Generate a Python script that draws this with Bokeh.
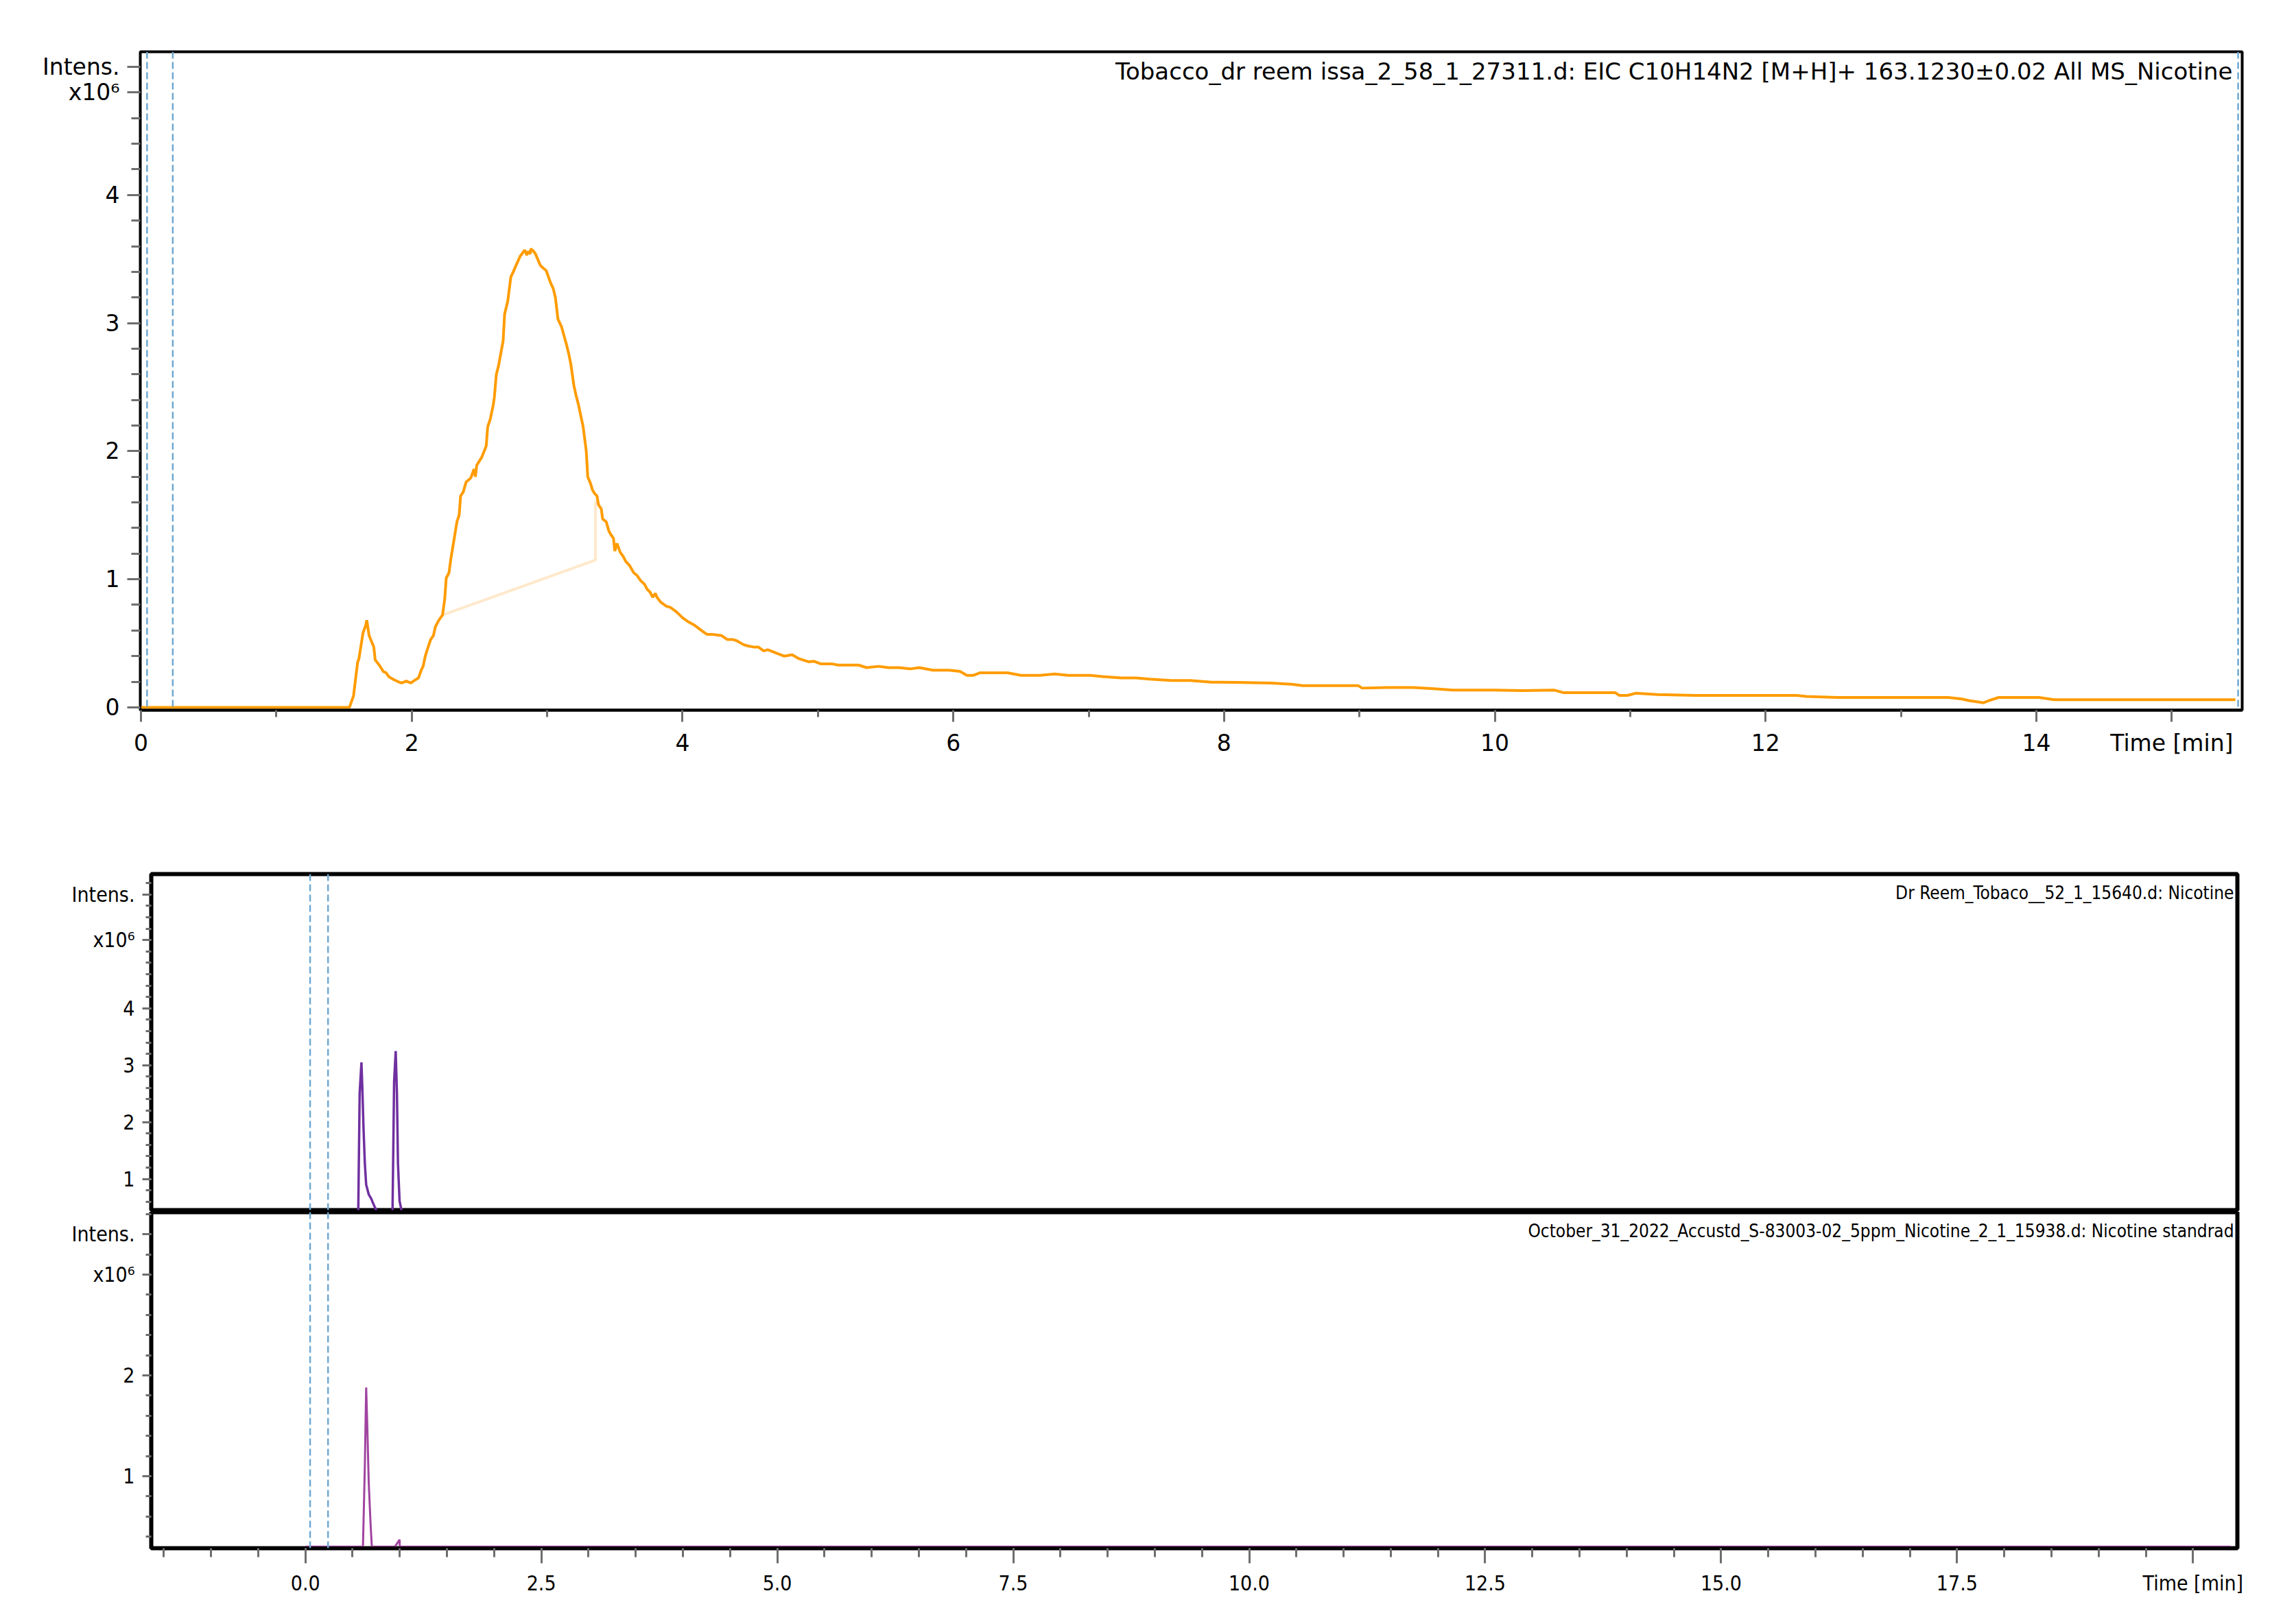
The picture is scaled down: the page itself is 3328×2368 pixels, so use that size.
from bokeh.plotting import figure
from bokeh.models import Range1d, FixedTicker, Span, Label
from bokeh.layouts import column
from bokeh.embed import file_html
from bokeh.resources import INLINE
import numpy as np

# ---------------- data ----------------
# Panel 1: EIC trace (time in min, intensity x10^6)
eic_time = [0.00, 1.54, 1.57, 1.60, 1.61, 1.64, 1.66, 1.668, 1.685, 1.72, 1.73, 1.76, 1.79, 1.81, 1.83,
            1.845, 1.87, 1.90, 1.925, 1.96, 1.993, 2.02, 2.05, 2.07, 2.084, 2.10, 2.118, 2.14, 2.16, 2.175,
            2.20, 2.227, 2.243, 2.255, 2.275, 2.289, 2.311, 2.334, 2.35, 2.361, 2.38, 2.402, 2.436, 2.46,
            2.47, 2.48, 2.516, 2.55, 2.561, 2.58, 2.602, 2.61, 2.625, 2.64, 2.652, 2.675, 2.686, 2.709,
            2.732, 2.75, 2.766, 2.80, 2.834, 2.85, 2.86, 2.875, 2.88, 2.90, 2.914, 2.95, 2.97, 2.993, 3.01,
            3.027, 3.045, 3.061, 3.08, 3.107, 3.125, 3.141, 3.16, 3.175, 3.198, 3.215, 3.232, 3.25, 3.266,
            3.289, 3.30, 3.32, 3.334, 3.35, 3.368, 3.38, 3.40, 3.41, 3.436, 3.455, 3.47, 3.49, 3.50, 3.516,
            3.54, 3.561, 3.58, 3.607, 3.64, 3.664, 3.69, 3.72, 3.74, 3.76, 3.78, 3.80, 3.811, 3.84, 3.88,
            3.91, 3.95, 4.00, 4.039, 4.09, 4.152, 4.18, 4.22, 4.289, 4.33, 4.37, 4.40, 4.45, 4.48, 4.53,
            4.561, 4.60, 4.63, 4.70, 4.75, 4.81, 4.86, 4.93, 4.97, 5.02, 5.10, 5.15, 5.22, 5.30, 5.36, 5.45,
            5.52, 5.60, 5.68, 5.75, 5.85, 5.97, 6.05, 6.10, 6.15, 6.20, 6.27, 6.40, 6.50, 6.64, 6.75, 6.85,
            7.01, 7.10, 7.24, 7.35, 7.45, 7.61, 7.75, 7.91, 8.10, 8.35, 8.50, 8.58, 8.80, 8.99, 9.02, 9.20,
            9.40, 9.55, 9.69, 10.0, 10.2, 10.44, 10.51, 10.7, 10.89, 10.92, 10.98, 11.04, 11.2, 11.48, 11.8,
            12.0, 12.23, 12.3, 12.53, 12.9, 13.35, 13.45, 13.50, 13.61, 13.65, 13.72, 14.02, 14.13, 15.47]
eic_intens = [0.00, 0.00, 0.09, 0.35, 0.38, 0.58, 0.64, 0.68, 0.56, 0.47, 0.37, 0.33, 0.28, 0.27, 0.24,
              0.23, 0.215, 0.20, 0.19, 0.205, 0.19, 0.21, 0.23, 0.29, 0.32, 0.40, 0.46, 0.53, 0.56, 0.63,
              0.68, 0.72, 0.84, 1.01, 1.05, 1.16, 1.30, 1.45, 1.50, 1.65, 1.68, 1.76, 1.79, 1.86,
              1.80, 1.89, 1.95, 2.04, 2.19, 2.25, 2.36, 2.42, 2.60, 2.66, 2.73, 2.86, 3.07, 3.17,
              3.36, 3.40, 3.44, 3.52, 3.57, 3.53, 3.56, 3.54, 3.58, 3.56, 3.54, 3.45, 3.43, 3.41, 3.36,
              3.31, 3.27, 3.20, 3.03, 2.97, 2.90, 2.84, 2.76, 2.68, 2.51, 2.43, 2.36, 2.27, 2.19,
              2.00, 1.80, 1.75, 1.70, 1.67, 1.65, 1.58, 1.55, 1.47, 1.45, 1.38, 1.35, 1.32, 1.22, 1.28,
              1.21, 1.18, 1.14, 1.11, 1.05, 1.03, 0.99, 0.96, 0.92, 0.90, 0.86, 0.89, 0.86, 0.82, 0.79,
              0.78, 0.75, 0.70, 0.67, 0.64, 0.59, 0.57, 0.57, 0.56, 0.53, 0.53, 0.52, 0.49, 0.48, 0.47,
              0.47, 0.44, 0.45, 0.42, 0.40, 0.41, 0.38, 0.356, 0.36, 0.34, 0.34, 0.33, 0.33, 0.33, 0.31, 0.32,
              0.31, 0.31, 0.30, 0.31, 0.29, 0.29, 0.28, 0.25, 0.25, 0.27, 0.27, 0.27, 0.25, 0.25, 0.26, 0.25,
              0.25, 0.24, 0.23, 0.23, 0.22, 0.21, 0.21, 0.196, 0.195, 0.19, 0.18, 0.17, 0.17, 0.17, 0.15, 0.155,
              0.155, 0.145, 0.134, 0.134, 0.13, 0.134, 0.114, 0.114, 0.114, 0.093, 0.093, 0.11, 0.10, 0.093, 0.093,
              0.093, 0.093, 0.085, 0.077, 0.077, 0.077, 0.065, 0.053, 0.036, 0.053, 0.077, 0.077, 0.06, 0.06]
# integration baseline of the nicotine peak
base_time = [2.227, 3.357, 3.357]
base_intens = [0.72, 1.15, 1.61]
# dashed marker times
marker_times_top = [0.045, 0.235, 15.49]
marker_times_bottom = [0.05, 0.24]

# Panel 2: Dr Reem_Tobaco sample
s2_time = [0.0, 0.55, 0.560, 0.575, 0.594, 0.602, 0.616, 0.630, 0.644, 0.671, 0.699, 0.713, 0.732, 0.749,
           0.78, 0.92, 0.940, 0.957, 0.970, 0.981, 0.998, 1.017, 1.05, 20.4]
s2_intens = [0.0, 0.0, 0.40, 2.51, 3.05, 2.67, 1.89, 1.27, 0.90, 0.73, 0.65, 0.59, 0.52, 0.46,
             0.0, 0.0, 2.71, 3.25, 2.51, 1.27, 0.61, 0.46, 0.0, 0.0]

# Panel 3: nicotine standard
s3_time = [0.0, 0.61, 0.630, 0.638, 0.644, 0.657, 0.671, 0.691, 0.704, 0.948, 0.998, 1.0, 20.4]
s3_intens = [0.30, 0.30, 1.105, 1.55, 1.88, 1.46, 0.94, 0.52, 0.30, 0.30, 0.37, 0.30, 0.30]

# axis ticks / labels
top_x_ticks = [0, 2, 4, 6, 8, 10, 12, 14, 15]
top_x_labels = ["0", "2", "4", "6", "8", "10", "12", "14", "Time [min]"]
top_y_ticks = [0, 1, 2, 3, 4, 4.8, 5.0]
top_y_labels = ["0", "1", "2", "3", "4", "x10⁶", "Intens."]
mid_y_ticks = [1, 2, 3, 4, 5.2, 6.0]
mid_y_labels = ["1", "2", "3", "4", "x10⁶", "Intens."]
bot_y_ticks = [1, 2, 3.0, 3.4]
bot_y_labels = ["1", "2", "x10⁶", "Intens."]
bot_x_ticks = [0, 2.5, 5.0, 7.5, 10.0, 12.5, 15.0, 17.5, 20.0]
bot_x_labels = ["0.0", "2.5", "5.0", "7.5", "10.0", "12.5", "15.0", "17.5", "Time [min]"]

titles = ["Tobacco_dr reem issa_2_58_1_27311.d: EIC C10H14N2 [M+H]+ 163.1230±0.02 All MS_Nicotine",
          "Dr Reem_Tobaco__52_1_15640.d: Nicotine",
          "October_31_2022_Accustd_S-83003-02_5ppm_Nicotine_2_1_15938.d: Nicotine standrad"]

# ---------------- style ----------------
TICK_C = "#6E6E6E"
ORANGE = "#FF9C00"
BASE_C = "#FFE9CC"
BLUE = "#6FA8D2"
PURPLE = "#7030A0"
MAGENTA = "#A044A0"
FONT_TOP = "DejaVu Sans"
FONT_LOW = "DejaVu Sans Condensed"


def style_common(p):
    p.xgrid.visible = False
    p.ygrid.visible = False
    p.background_fill_color = "white"
    p.border_fill_color = "white"
    p.outline_line_color = "black"


def style_axis(ax, font, size, major_out, minor_out):
    ax.axis_line_color = "black"
    ax.major_tick_line_color = TICK_C
    ax.minor_tick_line_color = TICK_C
    ax.major_tick_line_width = 3
    ax.minor_tick_line_width = 3
    ax.major_tick_in = 0
    ax.minor_tick_in = 0
    ax.major_tick_out = major_out
    ax.minor_tick_out = minor_out
    ax.major_label_text_font = font
    ax.major_label_text_font_size = size
    ax.major_label_text_color = "black"
    ax.major_label_standoff = 11


# ---------------- panel 1 ----------------
W = 3312
p1 = figure(width=W, height=1155, output_backend="svg", toolbar_location=None,
            x_range=Range1d(-0.005, 15.52), y_range=Range1d(-0.022, 5.118),
            min_border_left=204, min_border_right=44, min_border_top=75, min_border_bottom=120)
style_common(p1)
p1.outline_line_width = 4
p1.line(base_time, base_intens, line_color=BASE_C, line_width=4)
p1.line(eic_time, eic_intens, line_color=ORANGE, line_width=4)
for t in marker_times_top:
    p1.add_layout(Span(location=t, dimension="height", line_color=BLUE, line_width=2.5, line_dash="10 5"))

xa = p1.xaxis[0]
style_axis(xa, FONT_TOP, "33px", 17, 10)
xa.axis_line_width = 4
xa.ticker = FixedTicker(ticks=top_x_ticks, minor_ticks=[1, 3, 5, 7, 9, 11, 13, 15])
xa.major_label_overrides = {float(t): l for t, l in zip(top_x_ticks, top_x_labels)}
ya = p1.yaxis[0]
style_axis(ya, FONT_TOP, "33px", 19, 13)
ya.axis_line_width = 3
ya.ticker = FixedTicker(ticks=top_y_ticks,
                        minor_ticks=[round(v, 1) for v in np.arange(0.2, 5.01, 0.2)])
ya.major_label_overrides = {float(t): l for t, l in zip(top_y_ticks, top_y_labels)}
p1.add_layout(Label(x=15.52, y=5.118, text=titles[0], text_align="right", text_baseline="top",
                    x_offset=-14, y_offset=-8, text_font=FONT_TOP, text_font_size="34px",
                    text_color="black"))

# ---------------- panels 2 & 3 ----------------
shared_x = Range1d(-1.633, 20.47)
p2 = figure(width=W, height=612, output_backend="svg", toolbar_location=None,
            x_range=shared_x, y_range=Range1d(0.453, 6.36), x_axis_location=None,
            min_border_left=220, min_border_right=51, min_border_top=119, min_border_bottom=3)
style_common(p2)
p2.outline_line_width = 6
p2.line(s2_time, s2_intens, line_color=PURPLE, line_width=3.5)
for t in marker_times_bottom:
    p2.add_layout(Span(location=t, dimension="height", line_color=BLUE, line_width=2.5, line_dash="10 5"))
ya2 = p2.yaxis[0]
style_axis(ya2, FONT_LOW, "30px", 13, 8)
ya2.axis_line_width = 3
ya2.ticker = FixedTicker(ticks=mid_y_ticks,
                         minor_ticks=[round(v, 1) for v in np.arange(0.6, 6.31, 0.2)])
ya2.major_label_overrides = {float(t): l for t, l in zip(mid_y_ticks, mid_y_labels)}
p2.add_layout(Label(x=20.47, y=6.36, text=titles[1], text_align="right", text_baseline="top",
                    x_offset=-5, y_offset=-12, text_font=FONT_LOW, text_font_size="26px",
                    text_color="black"))

p3 = figure(width=W, height=590, output_backend="svg", toolbar_location=None,
            x_range=shared_x, y_range=Range1d(0.285, 3.62),
            min_border_left=220, min_border_right=51, min_border_top=0, min_border_bottom=100)
style_common(p3)
p3.outline_line_width = 6
p3.line(s3_time, s3_intens, line_color=MAGENTA, line_width=3)
for t in marker_times_bottom:
    p3.add_layout(Span(location=t, dimension="height", line_color=BLUE, line_width=2.5, line_dash="10 5"))
xa3 = p3.xaxis[0]
style_axis(xa3, FONT_LOW, "30px", 22, 13)
xa3.axis_line_width = 5
xa3.ticker = FixedTicker(ticks=bot_x_ticks,
                         minor_ticks=[round(v, 1) for v in np.arange(-1.5, 20.31, 0.5)])
xa3.major_label_overrides = {float(t): l for t, l in zip(bot_x_ticks, bot_x_labels)}
ya3 = p3.yaxis[0]
style_axis(ya3, FONT_LOW, "30px", 13, 8)
ya3.axis_line_width = 3
ya3.ticker = FixedTicker(ticks=bot_y_ticks,
                         minor_ticks=[round(v, 1) for v in np.arange(0.4, 3.61, 0.2)])
ya3.major_label_overrides = {float(t): l for t, l in zip(bot_y_ticks, bot_y_labels)}
p3.add_layout(Label(x=20.47, y=3.62, text=titles[2], text_align="right", text_baseline="top",
                    x_offset=-5, y_offset=-12, text_font=FONT_LOW, text_font_size="26px",
                    text_color="black"))

lower = column(p2, p3, spacing=0)
open("out.html", "w").write(file_html([p1, lower], INLINE))
